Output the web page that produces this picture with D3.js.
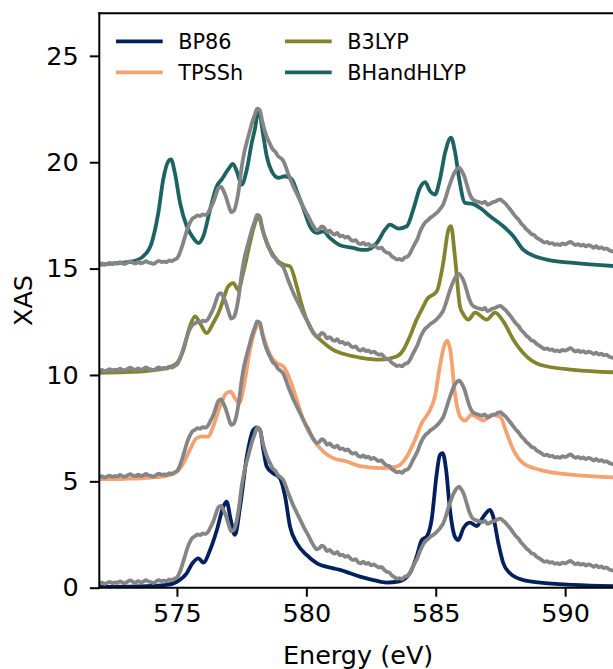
<!DOCTYPE html>
<html>
<head>
<meta charset="utf-8">
<script src="https://cdn.jsdelivr.net/npm/d3@7"></script>
<style>
  html, body { margin: 0; padding: 0; background: #fff; }
  svg { display: block; }
  text { font-family: "DejaVu Sans", sans-serif; fill: #000; }
</style>
</head>
<body>
<svg id="chart" width="613" height="669"></svg>
<script>
// ---- Data -----------------------------------------------------------------
// Calculated L-edge XAS spectra, one per functional (energies in eV).
const bp86Energy = [572.0, 573.0, 574.0, 574.6, 575.0, 575.38, 575.6, 575.83, 576.02, 576.28, 576.54, 576.79, 576.92, 577.08, 577.24, 577.44, 577.7, 577.95, 578.08, 578.21, 578.34, 578.47, 578.72, 578.98, 579.18, 579.37, 579.63, 580.01, 580.4, 581.04, 581.3, 581.69, 582.07, 582.59, 583.1, 583.55, 584.0, 584.26, 584.46, 584.65, 584.84, 585.04, 585.16, 585.27, 585.4, 585.55, 585.74, 585.87, 586.07, 586.32, 586.58, 586.84, 587.1, 587.22, 587.42, 587.61, 587.87, 588.38, 589.03, 590.32, 592.0];
const bp86XAS = [0.04, 0.05, 0.08, 0.13, 0.28, 0.68, 1.15, 1.38, 1.18, 1.77, 2.7, 3.8, 4.05, 3.19, 2.48, 3.81, 6.16, 7.42, 7.53, 7.42, 6.48, 5.69, 5.38, 5.15, 4.28, 2.87, 2.09, 1.54, 1.15, 0.91, 0.84, 0.68, 0.52, 0.36, 0.24, 0.28, 0.68, 1.46, 2.24, 2.4, 3.19, 5.38, 6.24, 6.32, 5.54, 3.66, 2.4, 2.24, 2.8, 3.06, 2.9, 3.34, 3.66, 3.34, 2.09, 1.15, 0.68, 0.36, 0.24, 0.13, 0.07];

const tpsshEnergy = [572.0, 573.0, 574.0, 574.6, 575.0, 575.25, 575.5, 575.76, 576.02, 576.21, 576.4, 576.66, 576.92, 577.08, 577.24, 577.41, 577.63, 577.82, 578.08, 578.18, 578.34, 578.6, 578.85, 579.11, 579.37, 579.63, 579.88, 580.27, 580.66, 581.04, 581.56, 582.07, 582.97, 583.49, 583.88, 584.2, 584.46, 584.71, 584.97, 585.16, 585.32, 585.45, 585.58, 585.74, 585.94, 586.13, 586.39, 586.58, 586.84, 587.16, 587.48, 587.74, 588.0, 588.38, 589.03, 590.32, 592.0];
const tpsshXAS = [0.1, 0.12, 0.18, 0.26, 0.46, 0.85, 1.48, 2.03, 2.11, 2.1, 2.58, 3.52, 4.15, 4.22, 3.91, 3.68, 4.77, 6.18, 7.28, 7.47, 6.81, 5.95, 5.56, 5.4, 4.77, 3.83, 2.89, 1.95, 1.4, 1.09, 0.93, 0.72, 0.62, 0.69, 1.16, 1.95, 2.74, 3.2, 3.99, 5.4, 6.34, 6.61, 6.03, 4.15, 3.05, 2.86, 3.13, 3.02, 2.86, 3.13, 3.05, 2.27, 1.48, 0.85, 0.54, 0.3, 0.18];

const b3lypEnergy = [572.0, 573.0, 573.96, 574.6, 575.0, 575.25, 575.5, 575.7, 575.89, 576.15, 576.4, 576.66, 576.79, 576.98, 577.18, 577.37, 577.56, 577.82, 578.02, 578.14, 578.34, 578.6, 578.85, 579.11, 579.37, 579.63, 579.82, 580.01, 580.27, 580.53, 581.04, 581.56, 582.07, 582.85, 583.49, 583.75, 584.0, 584.26, 584.52, 584.65, 585.04, 585.29, 585.49, 585.59, 585.74, 585.94, 586.07, 586.26, 586.52, 586.97, 587.29, 587.61, 588.0, 588.38, 589.03, 590.32, 592.0];
const b3lypXAS = [0.1, 0.13, 0.21, 0.32, 0.56, 1.18, 2.28, 2.75, 2.44, 1.97, 2.44, 3.07, 3.54, 4.16, 4.32, 4.0, 4.8, 6.2, 7.15, 7.46, 6.68, 5.89, 5.42, 5.19, 5.1, 4.16, 3.3, 2.6, 1.97, 1.66, 1.18, 0.95, 0.82, 0.72, 0.87, 1.18, 1.81, 2.6, 3.22, 3.54, 3.93, 5.27, 6.83, 6.99, 5.58, 3.2, 2.85, 2.6, 2.93, 2.6, 2.93, 2.52, 1.66, 1.03, 0.48, 0.24, 0.12];

const bhhlypEnergy = [572.0, 572.8, 573.3, 573.7, 574.02, 574.28, 574.47, 574.67, 574.77, 574.92, 575.12, 575.38, 575.63, 575.83, 576.02, 576.28, 576.54, 576.73, 576.98, 577.16, 577.31, 577.5, 577.7, 577.89, 578.02, 578.15, 578.34, 578.47, 578.66, 578.92, 579.18, 579.44, 579.63, 579.88, 580.14, 580.4, 580.66, 580.91, 581.3, 581.82, 582.07, 582.33, 582.72, 583.04, 583.23, 583.55, 583.88, 584.13, 584.39, 584.59, 584.78, 584.97, 585.16, 585.36, 585.59, 585.74, 585.91, 586.13, 586.39, 586.71, 587.1, 587.61, 588.0, 588.38, 588.77, 589.42, 590.32, 592.0];
const bhhlypXAS = [0.19, 0.27, 0.34, 0.58, 1.2, 2.62, 4.19, 5.05, 5.13, 4.5, 3.09, 1.99, 1.44, 1.2, 1.52, 2.77, 3.87, 4.19, 4.66, 4.92, 4.58, 3.95, 4.66, 5.91, 6.6, 7.48, 6.22, 5.28, 4.58, 4.27, 4.34, 4.19, 3.64, 2.85, 1.99, 1.68, 1.75, 1.44, 1.1, 0.97, 0.89, 0.88, 1.2, 1.83, 2.07, 1.88, 1.99, 2.77, 3.79, 4.06, 3.64, 3.48, 4.19, 5.44, 6.15, 5.52, 4.19, 3.09, 3.05, 2.85, 2.46, 1.99, 1.52, 0.89, 0.61, 0.39, 0.27, 0.11];

// Measured spectrum on a 0.1 eV grid from 572.0 to 592.0 eV.
const expXAS = [
  0.20, 0.24, 0.18, 0.22, 0.27, 0.21, 0.25, 0.23, 0.30, 0.24,
  0.22, 0.29, 0.34, 0.27, 0.24, 0.31, 0.25, 0.28, 0.35, 0.29,
  0.26, 0.22, 0.30, 0.36, 0.31, 0.33, 0.30, 0.39, 0.35, 0.42,
  0.48, 0.70, 1.05, 1.45, 1.85, 2.15, 2.35, 2.42, 2.50, 2.47,
  2.55, 2.52, 2.62, 2.85, 3.10, 3.45, 3.78, 3.85, 3.65, 3.35,
  2.95, 2.65, 2.72, 3.10, 3.80, 4.75, 5.45, 5.95, 6.40, 6.85,
  7.20, 7.52, 7.45, 6.90, 6.45, 6.10, 5.85, 5.60, 5.50, 5.30,
  5.20, 5.08, 4.80, 4.45, 4.15, 3.85, 3.60, 3.35, 3.10, 2.85,
  2.62, 2.40, 2.15, 1.95, 1.80, 1.85, 1.98, 1.90, 1.72, 1.78,
  1.66, 1.60, 1.68, 1.52, 1.55, 1.45, 1.50, 1.38, 1.30, 1.34,
  1.20, 1.15, 1.22, 1.12, 1.16, 1.05, 1.10, 1.02, 0.95, 0.98,
  0.85, 0.75, 0.72, 0.58, 0.50, 0.42, 0.45, 0.40, 0.52, 0.55,
  0.70, 0.95, 1.18, 1.42, 1.75, 2.00, 2.18, 2.28, 2.40, 2.48,
  2.58, 2.70, 2.85, 3.05, 3.40, 3.80, 4.15, 4.45, 4.65, 4.75,
  4.60, 4.35, 3.95, 3.55, 3.30, 3.20, 3.15, 3.12, 3.08, 3.15,
  3.00, 3.05, 3.12, 3.15, 3.22, 3.25, 3.15, 3.05, 2.90, 2.75,
  2.58, 2.42, 2.30, 2.12, 2.00, 1.85, 1.75, 1.62, 1.58, 1.45,
  1.38, 1.30, 1.22, 1.25, 1.18, 1.20, 1.12, 1.15, 1.10, 1.18,
  1.14, 1.20, 1.26, 1.18, 1.10, 1.15, 1.08, 1.12, 1.04, 1.10,
  1.06, 0.98, 1.05, 0.96, 1.00, 0.92, 0.95, 0.86, 0.82, 0.78,
  0.75
];
const expEnergy = expXAS.map((_, i) => 572 + i * 0.1);

const seriesNames = ["BP86", "TPSSh", "B3LYP", "BHandHLYP"];
const seriesColors = ["#03205e", "#f4a26f", "#84842f", "#1d6363"];
const seriesOffsets = [0, 5, 10, 15];
const seriesEnergy = [bp86Energy, tpsshEnergy, b3lypEnergy, bhhlypEnergy];
const seriesXAS = [bp86XAS, tpsshXAS, b3lypXAS, bhhlypXAS];
const expColor = "#858585";

const xTicks = [575, 580, 585, 590];
const yTicks = [0, 5, 10, 15, 20, 25];

// ---- Layout ---------------------------------------------------------------
const svg = d3.select("#chart");
const W = 613, H = 669;
const plot = { left: 99.3, right: 616.9, top: 13.3, bottom: 587.7 };

svg.append("rect").attr("width", W).attr("height", H).attr("fill", "#fff");

const x = d3.scaleLinear().domain([572, 592]).range([plot.left, plot.right]);
const y = d3.scaleLinear().domain([0, 27]).range([plot.bottom, plot.top]);

svg.append("defs").append("clipPath").attr("id", "plotClip")
  .append("rect")
  .attr("x", plot.left).attr("y", plot.top)
  .attr("width", plot.right - plot.left).attr("height", plot.bottom - plot.top);

const lines = svg.append("g").attr("clip-path", "url(#plotClip)");

function drawSpectrum(energy, values, offset, color) {
  const pts = energy.map((e, i) => [e, values[i] + offset]);
  lines.append("path")
    .datum(pts)
    .attr("fill", "none")
    .attr("stroke", color)
    .attr("stroke-width", 3.8)
    .attr("stroke-linejoin", "round")
    .attr("stroke-linecap", "round")
    .attr("d", d3.line().x(d => x(d[0])).y(d => y(d[1])).curve(d3.curveMonotoneX));
}

seriesNames.forEach((name, k) => {
  drawSpectrum(seriesEnergy[k], seriesXAS[k], seriesOffsets[k], seriesColors[k]);
  drawSpectrum(expEnergy, expXAS, seriesOffsets[k], expColor);
});

// ---- Axes -----------------------------------------------------------------
const tickFont = 25.5;

const xAxis = svg.append("g")
  .attr("transform", `translate(0,${plot.bottom})`)
  .call(d3.axisBottom(x).tickValues(xTicks).tickSize(9).tickPadding(7).tickFormat(d3.format("d")));
const yAxis = svg.append("g")
  .attr("transform", `translate(${plot.left},0)`)
  .call(d3.axisLeft(y).tickValues(yTicks).tickSize(9.5).tickPadding(11).tickFormat(d3.format("d")));

[xAxis, yAxis].forEach(g => {
  g.select(".domain").remove();
  g.selectAll(".tick line").attr("stroke", "#000").attr("stroke-width", 2);
  g.selectAll(".tick text")
    .attr("font-family", "DejaVu Sans, sans-serif")
    .attr("font-size", tickFont)
    .attr("fill", "#000");
});
xAxis.selectAll(".tick text").attr("dy", "0.71em");

// Spines (left, bottom, top)
const spine = svg.append("g").attr("stroke", "#000").attr("stroke-width", 2).attr("fill", "none");
spine.append("line").attr("x1", plot.left).attr("x2", plot.left).attr("y1", plot.top - 1).attr("y2", plot.bottom + 1);
spine.append("line").attr("x1", plot.left - 1).attr("x2", W + 5).attr("y1", plot.bottom).attr("y2", plot.bottom);
spine.append("line").attr("x1", plot.left - 1).attr("x2", W + 5).attr("y1", plot.top).attr("y2", plot.top);

svg.append("text")
  .attr("x", (plot.left + plot.right) / 2)
  .attr("y", 663.5)
  .attr("text-anchor", "middle")
  .attr("font-size", tickFont)
  .text("Energy (eV)");

svg.append("text")
  .attr("transform", `translate(31.7,${(plot.top + plot.bottom) / 2}) rotate(-90)`)
  .attr("text-anchor", "middle")
  .attr("font-size", tickFont)
  .text("XAS");

// ---- Legend ---------------------------------------------------------------
const legendCols = [116, 285];
const legendRows = [41.3, 72.3];
const legend = svg.append("g");
seriesNames.forEach((name, k) => {
  const col = Math.floor(k / 2), row = k % 2;
  const lx = legendCols[col], ly = legendRows[row];
  legend.append("line")
    .attr("x1", lx).attr("x2", lx + 46.7)
    .attr("y1", ly).attr("y2", ly)
    .attr("stroke", seriesColors[k]).attr("stroke-width", 3.8);
  legend.append("text")
    .attr("x", lx + 62.3).attr("y", ly)
    .attr("dy", "0.36em")
    .attr("font-size", 20.8)
    .text(name);
});
</script>
</body>
</html>
